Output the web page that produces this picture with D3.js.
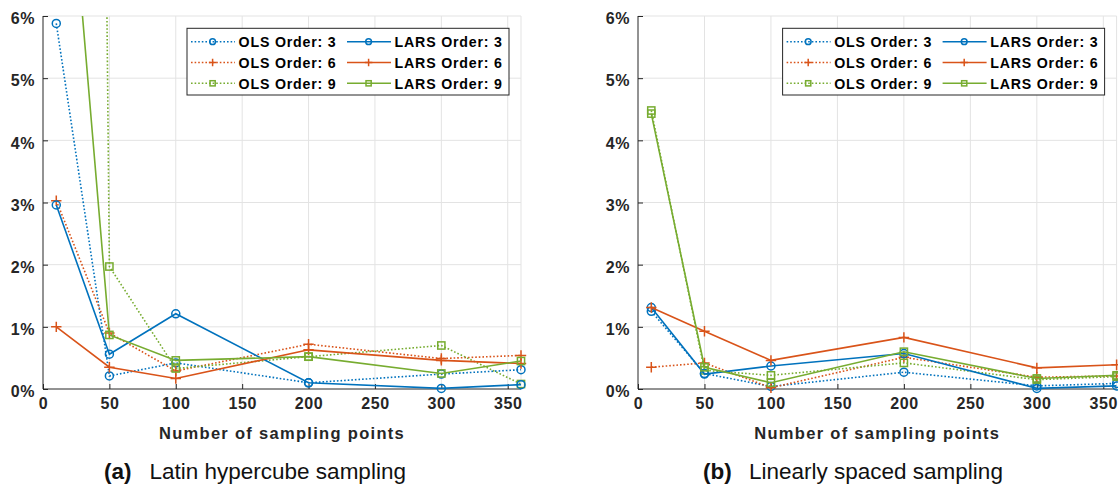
<!DOCTYPE html>
<html>
<head>
<meta charset="utf-8">
<script src="https://cdn.jsdelivr.net/npm/d3@7"></script>
<style>
  body { margin: 0; background: #fff; }
  svg { display: block; }
</style>
</head>
<body>
<svg id="chart" width="1118" height="489"></svg>
<script>
// Number of sampling points on the horizontal axis
const sampleCounts = [10, 50, 100, 200, 300, 360];
const xTickValues = [0, 50, 100, 150, 200, 250, 300, 350];
const yTickValues = [0, 1, 2, 3, 4, 5, 6];

// Relative error (%) — Latin hypercube sampling
const lhsOls3  = [5.88, 0.21, 0.42, 0.10, 0.24, 0.31];
const lhsOls6  = [3.03, 0.90, 0.29, 0.72, 0.49, 0.54];
const lhsOls9  = [90.0, 1.97, 0.33, 0.52, 0.70, 0.08];
const lhsLars3 = [2.96, 0.56, 1.21, 0.10, 0.01, 0.07];
const lhsLars6 = [1.00, 0.35, 0.17, 0.63, 0.46, 0.41];
const lhsLars9 = [11.0, 0.87, 0.46, 0.52, 0.25, 0.45];

// Relative error (%) — linearly spaced sampling
const linOls3  = [1.25, 0.25, 0.04, 0.27, 0.05, 0.09];
const linOls6  = [0.35, 0.42, 0.02, 0.51, 0.19, 0.21];
const linOls9  = [4.48, 0.30, 0.22, 0.42, 0.15, 0.20];
const linLars3 = [1.31, 0.24, 0.37, 0.57, 0.01, 0.05];
const linLars6 = [1.31, 0.93, 0.46, 0.83, 0.34, 0.39];
const linLars9 = [4.43, 0.35, 0.10, 0.60, 0.17, 0.22];

const seriesLabels = ["OLS Order: 3", "OLS Order: 6", "OLS Order: 9",
                      "LARS Order: 3", "LARS Order: 6", "LARS Order: 9"];

const BLUE = "#0072BD", ORANGE = "#D95319", GREEN = "#77AC30";
const styles = [
  { color: BLUE,   dotted: true,  marker: "circle" },
  { color: ORANGE, dotted: true,  marker: "plus" },
  { color: GREEN,  dotted: true,  marker: "square" },
  { color: BLUE,   dotted: false, marker: "circle" },
  { color: ORANGE, dotted: false, marker: "plus" },
  { color: GREEN,  dotted: false, marker: "square" }
];

const panels = [
  { id: "lhs", left: 43,  right: 521,   top: 16, bottom: 389,
    data: [lhsOls3, lhsOls6, lhsOls9, lhsLars3, lhsLars6, lhsLars9],
    tag: "(a)", tagX: 104, caption: "Latin hypercube sampling", captionX: 149.5 },
  { id: "lin", left: 638, right: 1116.6, top: 16, bottom: 389,
    data: [linOls3, linOls6, linOls9, linLars3, linLars6, linLars9],
    tag: "(b)", tagX: 703, caption: "Linearly spaced sampling", captionX: 749 }
];

const svg = d3.select("#chart");
const AXIS = "#262626";
const GRID = "#e3e3e3";
const FONT = "'Liberation Sans', Arial, Helvetica, sans-serif";

function drawMarker(g, type, x, y, s) {
  const col = g.attr("data-color");
  if (type === "circle") {
    g.append("circle").attr("cx", x).attr("cy", y).attr("r", 4 * s)
      .attr("fill", "none").attr("stroke", col).attr("stroke-width", 1.5);
  } else if (type === "square") {
    const h = 3.6 * s;
    g.append("rect").attr("x", x - h).attr("y", y - h)
      .attr("width", 2 * h).attr("height", 2 * h)
      .attr("fill", "none").attr("stroke", col).attr("stroke-width", 1.5);
  } else {
    const h = 5.2 * s;
    g.append("path")
      .attr("d", `M${x - h},${y}H${x + h}M${x},${y - h}V${y + h}`)
      .attr("stroke", col).attr("stroke-width", 1.5).attr("fill", "none");
  }
}

panels.forEach(p => {
  const x = d3.scaleLinear().domain([0, 360]).range([p.left, p.right]);
  const y = d3.scaleLinear().domain([0, 6]).range([p.bottom, p.top]);
  const g = svg.append("g").attr("class", "panel-" + p.id);

  // grid
  const grid = g.append("g").attr("class", "grid");
  grid.selectAll("line.gx").data(xTickValues.filter(v => v > 0)).join("line")
    .attr("x1", d => x(d)).attr("x2", d => x(d))
    .attr("y1", p.top).attr("y2", p.bottom)
    .attr("stroke", GRID).attr("stroke-width", 1);
  grid.append("line").attr("x1", x(360)).attr("x2", x(360))
    .attr("y1", p.top).attr("y2", p.bottom)
    .attr("stroke", GRID).attr("stroke-width", 1);
  grid.selectAll("line.gy").data(yTickValues.filter(v => v > 0)).join("line")
    .attr("x1", p.left).attr("x2", p.right)
    .attr("y1", d => y(d)).attr("y2", d => y(d))
    .attr("stroke", GRID).attr("stroke-width", 1);

  // axes (inward ticks, no box)
  const xAxis = d3.axisBottom(x).tickValues(xTickValues).tickSize(-5).tickPadding(9)
    .tickFormat(d3.format("d"));
  const yAxis = d3.axisLeft(y).tickValues(yTickValues).tickSize(-5).tickPadding(8)
    .tickFormat(d => d + "%");

  const gx = g.append("g").attr("transform", `translate(0,${p.bottom})`).call(xAxis);
  const gy = g.append("g").attr("transform", `translate(${p.left},0)`).call(yAxis);
  [gx, gy].forEach(a => {
    a.select(".domain").attr("stroke", AXIS).attr("stroke-width", 1);
    a.selectAll(".tick line").attr("stroke", AXIS).attr("stroke-width", 1);
    a.selectAll(".tick text").attr("fill", AXIS)
      .style("font-family", FONT).style("font-weight", "bold").style("font-size", "16px")
      .style("letter-spacing", "0.6px");
  });
  gx.select(".domain").attr("d", `M${p.left},0H${p.right}`);
  gy.select(".domain").attr("d", `M0,${p.top}V${p.bottom}`);
  gy.selectAll(".tick text").attr("dy", "0.48em");
  gx.selectAll(".tick text").attr("dy", "0.66em");

  g.append("text")
    .attr("x", (p.left + p.right) / 2).attr("y", 439)
    .attr("text-anchor", "middle").attr("fill", AXIS)
    .style("font-family", FONT).style("font-weight", "bold").style("font-size", "16.5px")
    .style("letter-spacing", "1.3px")
    .text("Number of sampling points");

  // data
  const clipId = "clip-" + p.id;
  g.append("clipPath").attr("id", clipId).append("rect")
    .attr("x", p.left).attr("y", p.top)
    .attr("width", p.right - p.left).attr("height", p.bottom - p.top);

  const line = d3.line().x((d, i) => x(sampleCounts[i])).y(d => y(d));
  p.data.forEach((vals, k) => {
    const st = styles[k];
    const sg = g.append("g").attr("data-color", st.color);
    sg.append("path").datum(vals)
      .attr("clip-path", `url(#${clipId})`)
      .attr("d", line)
      .attr("fill", "none").attr("stroke", st.color).attr("stroke-width", 1.6)
      .attr("stroke-dasharray", st.dotted ? "1.6,2" : null);
    vals.forEach((v, i) => {
      if (v <= 6) drawMarker(sg, st.marker, x(sampleCounts[i]), y(v), 1);
    });
  });

  // legend
  const L = p.right - 12 - 322, T = 28.3;
  const lg = g.append("g").attr("class", "legend");
  lg.append("rect").attr("x", L).attr("y", T).attr("width", 322).attr("height", 66.7)
    .attr("fill", "#fff").attr("stroke", AXIS).attr("stroke-width", 1);
  seriesLabels.forEach((lab, k) => {
    const st = styles[k];
    const col = Math.floor(k / 3), row = k % 3;
    const cy = T + 13.4 + row * 20.8;
    const x0 = L + 4 + col * 156;
    const eg = lg.append("g").attr("data-color", st.color);
    eg.append("line").attr("x1", x0).attr("x2", x0 + 44).attr("y1", cy).attr("y2", cy)
      .attr("stroke", st.color).attr("stroke-width", 1.6)
      .attr("stroke-dasharray", st.dotted ? "1.6,2" : null);
    drawMarker(eg, st.marker, x0 + 21.6, cy, 0.72);
    eg.append("text").attr("x", x0 + 47.6).attr("y", cy + 5.2)
      .attr("fill", "#000")
      .style("font-family", FONT).style("font-weight", "bold").style("font-size", "14.2px")
      .style("letter-spacing", "0.8px")
      .text(lab);
  });

  // sub-caption
  const cap = g.append("text").attr("y", 479).attr("fill", "#111")
    .style("font-family", "'Liberation Sans', Arial, sans-serif").style("font-size", "22.5px");
  cap.append("tspan").attr("x", p.tagX).style("font-weight", "bold").text(p.tag);
  cap.append("tspan").attr("x", p.captionX).text(p.caption);
});
</script>
</body>
</html>
